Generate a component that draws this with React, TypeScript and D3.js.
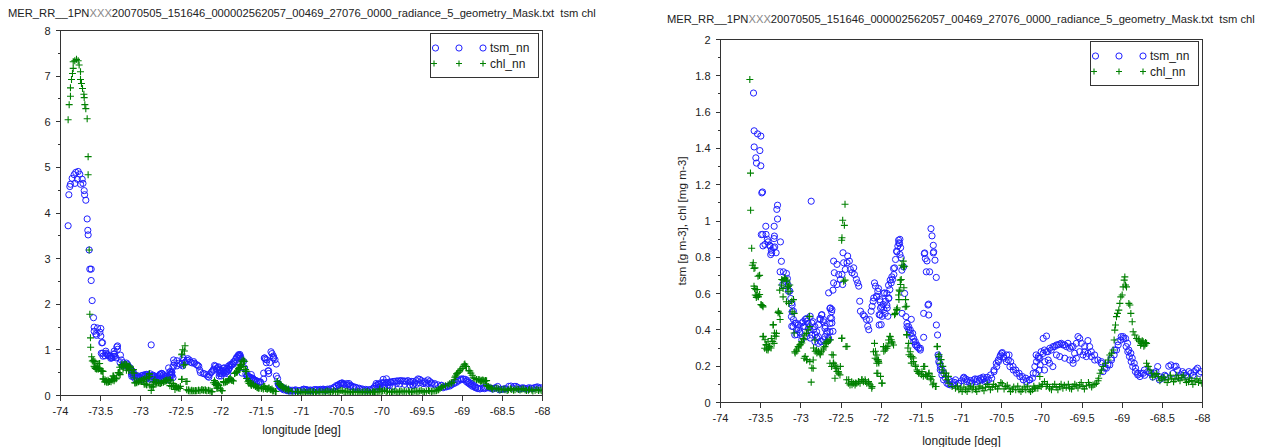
import React from "react";
import * as d3 from "d3";

const TITLE_A = "MER_RR__1PN";
const TITLE_B = "XXX";
const TITLE_C = "20070505_151646_000002562057_00469_27076_0000_radiance_5_geometry_Mask.txt  tsm chl";
const X_LABEL = "longitude [deg]";
const Y_LABEL = "tsm [g m-3], chl [mg m-3]";
const SERIES = ["tsm_nn", "chl_nn"];

const xTicks = [-74, -73.5, -73, -72.5, -72, -71.5, -71, -70.5, -70, -69.5, -69, -68.5, -68];
const leftYTicks = [0, 1, 2, 3, 4, 5, 6, 7, 8];
const leftYMinor = [0.5, 1.5, 2.5, 3.5, 4.5, 5.5, 6.5, 7.5];
const rightYTicks = [0, 0.2, 0.4, 0.6, 0.8, 1, 1.2, 1.4, 1.6, 1.8, 2];
const rightYMinor = [0.1, 0.3, 0.5, 0.7, 0.9, 1.1, 1.3, 1.5, 1.7, 1.9];

const tsm: [number, number][] = [
  [-73.905, 3.72], [-73.896, 4.4], [-73.884, 4.58], [-73.876, 4.63], [-73.855, 4.76], [-73.83, 4.84],
  [-73.82, 4.65], [-73.81, 4.89], [-73.79, 4.74], [-73.78, 4.91], [-73.76, 4.85], [-73.75, 4.63],
  [-73.73, 4.74], [-73.72, 4.65], [-73.705, 4.49], [-73.7, 4.4], [-73.685, 4.28], [-73.668, 3.87],
  [-73.66, 3.62], [-73.656, 3.52], [-73.643, 3.19], [-73.635, 2.77], [-73.618, 2.77], [-73.618, 2.52],
  [-73.606, 2.08], [-73.589, 1.705], [-73.581, 1.497], [-73.581, 1.408], [-73.56, 1.348], [-73.552, 1.319],
  [-73.539, 1.48], [-73.51, 1.388], [-73.498, 1.468], [-73.498, 1.304], [-73.486, 1.155], [-73.477, 1.16],
  [-73.492, 0.925], [-73.475, 0.926], [-73.471, 0.863], [-73.446, 0.871], [-73.436, 0.971], [-73.433, 0.926],
  [-73.417, 0.899], [-73.408, 0.885], [-73.388, 0.866], [-73.383, 0.862], [-73.375, 0.815], [-73.367, 0.839],
  [-73.363, 0.825], [-73.342, 0.853], [-73.333, 0.903], [-73.332, 0.971], [-73.329, 0.917], [-73.325, 0.857],
  [-73.308, 0.825], [-73.299, 1.064], [-73.29, 1.087], [-73.29, 1.011], [-73.254, 0.885], [-73.242, 0.778],
  [-73.258, 0.72], [-73.225, 0.65], [-73.217, 0.72], [-73.196, 0.668], [-73.179, 0.711], [-73.167, 0.683],
  [-73.158, 0.647], [-73.154, 0.613], [-73.138, 0.614], [-73.125, 0.573], [-73.113, 0.549], [-73.108, 0.537],
  [-73.092, 0.503], [-73.108, 0.5], [-73.117, 0.473], [-73.092, 0.457], [-73.113, 0.42], [-73.075, 0.436],
  [-73.058, 0.438], [-73.096, 0.418], [-73.054, 0.4], [-73.029, 0.401], [-73.075, 0.372], [-73.05, 0.374],
  [-73.033, 0.427], [-73.013, 0.39], [-73.008, 0.383], [-72.988, 0.438], [-72.988, 0.346], [-72.971, 0.445],
  [-72.967, 0.42], [-72.95, 0.418], [-72.946, 0.457], [-72.929, 0.463], [-72.925, 0.448], [-72.925, 0.365],
  [-72.908, 0.436], [-72.904, 0.411], [-72.888, 0.4], [-72.883, 0.475], [-72.883, 0.355], [-72.871, 1.109],
  [-72.867, 0.372], [-72.863, 0.438], [-72.846, 0.445], [-72.842, 0.401], [-72.825, 0.418], [-72.825, 0.335],
  [-72.821, 0.374], [-72.804, 0.39], [-72.8, 0.355], [-72.783, 0.363], [-72.783, 0.326], [-72.779, 0.429],
  [-72.763, 0.463], [-72.758, 0.457], [-72.758, 0.337], [-72.742, 0.482], [-72.742, 0.335], [-72.738, 0.484],
  [-72.721, 0.445], [-72.717, 0.457], [-72.717, 0.346], [-72.7, 0.408], [-72.7, 0.363], [-72.696, 0.42],
  [-72.679, 0.381], [-72.675, 0.392], [-72.658, 0.344], [-72.654, 0.355], [-72.654, 0.604], [-72.638, 0.39],
  [-72.638, 0.436], [-72.638, 0.518], [-72.633, 0.466], [-72.633, 0.521], [-72.617, 0.5], [-72.617, 0.463],
  [-72.613, 0.512], [-72.613, 0.438], [-72.6, 0.392], [-72.6, 0.619], [-72.592, 0.659], [-72.583, 0.715],
  [-72.592, 0.779], [-72.55, 0.761], [-72.55, 0.65], [-72.529, 0.705], [-72.508, 0.678], [-72.488, 0.705],
  [-72.479, 0.65], [-72.475, 0.825], [-72.467, 0.77], [-72.446, 0.733], [-72.425, 0.77], [-72.417, 0.807],
  [-72.396, 0.779], [-72.383, 0.733], [-72.363, 0.715], [-72.342, 0.742], [-72.333, 0.705], [-72.308, 0.678],
  [-72.292, 0.659], [-72.279, 0.641], [-72.267, 0.558], [-72.258, 0.503], [-72.225, 0.484], [-72.208, 0.475],
  [-72.183, 0.457], [-72.167, 0.42], [-72.154, 0.401], [-72.146, 0.457], [-72.125, 0.503], [-72.113, 0.53],
  [-72.1, 0.558], [-72.092, 0.576], [-72.083, 0.659], [-72.071, 0.641], [-72.058, 0.586], [-72.054, 0.582],
  [-72.042, 0.613], [-72.033, 0.628], [-72.025, 0.484], [-72.025, 0.427], [-72.017, 0.567], [-72.013, 0.555],
  [-72.013, 0.482], [-72.008, 0.521], [-72.0, 0.429], [-71.992, 0.527], [-71.988, 0.475], [-71.975, 0.54],
  [-71.971, 0.601], [-71.967, 0.512], [-71.958, 0.604], [-71.95, 0.491], [-71.946, 0.558], [-71.929, 0.601],
  [-71.929, 0.537], [-71.925, 0.521], [-71.917, 0.475], [-71.908, 0.646], [-71.908, 0.573], [-71.904, 0.576],
  [-71.892, 0.622], [-71.888, 0.674], [-71.875, 0.659], [-71.867, 0.692], [-71.858, 0.678], [-71.846, 0.738],
  [-71.842, 0.705], [-71.833, 0.742], [-71.821, 0.788], [-71.808, 0.834], [-71.804, 0.83], [-71.792, 0.862],
  [-71.783, 0.894], [-71.779, 0.88], [-71.771, 0.875], [-71.767, 0.899], [-71.767, 0.816], [-71.758, 0.853],
  [-71.75, 0.797], [-71.742, 0.729], [-71.74, 0.491], [-71.721, 0.747], [-71.708, 0.601], [-71.692, 0.473],
  [-71.679, 0.436], [-71.678, 0.418], [-71.658, 0.418], [-71.657, 0.4], [-71.638, 0.4], [-71.636, 0.381],
  [-71.625, 0.458], [-71.616, 0.363], [-71.608, 0.381], [-71.596, 0.353], [-71.595, 0.335], [-71.575, 0.335],
  [-71.574, 0.317], [-71.554, 0.317], [-71.554, 0.308], [-71.533, 0.299], [-71.513, 0.289], [-71.512, 0.299],
  [-71.471, 0.359], [-71.471, 0.491], [-71.463, 0.82], [-71.458, 0.824], [-71.45, 0.793], [-71.438, 0.72],
  [-71.43, 0.78], [-71.417, 0.537], [-71.409, 0.542], [-71.408, 0.482], [-71.397, 0.72], [-71.38, 0.958],
  [-71.367, 0.918], [-71.351, 0.866], [-71.346, 0.83], [-71.351, 0.824], [-71.33, 0.784], [-71.314, 0.689],
  [-71.313, 0.427], [-71.298, 0.372], [-71.292, 0.262], [-71.285, 0.253], [-71.283, 0.225], [-71.273, 0.216],
  [-71.264, 0.18], [-71.263, 0.198], [-71.244, 0.152], [-71.242, 0.179], [-71.223, 0.125], [-71.221, 0.161],
  [-71.2, 0.134], [-71.182, 0.106], [-71.16, 0.1], [-71.158, 0.125], [-71.14, 0.097], [-71.117, 0.115],
  [-71.099, 0.097], [-71.08, 0.11], [-71.075, 0.125], [-71.037, 0.106], [-71.033, 0.106], [-71.0, 0.12],
  [-70.975, 0.134], [-70.971, 0.139], [-70.95, 0.13], [-70.934, 0.115], [-70.929, 0.125], [-70.9, 0.11],
  [-70.888, 0.121], [-70.872, 0.106], [-70.846, 0.125], [-70.83, 0.13], [-70.81, 0.115], [-70.804, 0.128],
  [-70.78, 0.12], [-70.763, 0.134], [-70.748, 0.125], [-70.73, 0.14], [-70.721, 0.13], [-70.707, 0.115],
  [-70.69, 0.12], [-70.679, 0.139], [-70.665, 0.125], [-70.638, 0.152], [-70.624, 0.134], [-70.596, 0.179],
  [-70.595, 0.17], [-70.567, 0.216], [-70.562, 0.198], [-70.542, 0.234], [-70.541, 0.225], [-70.521, 0.253],
  [-70.513, 0.262], [-70.5, 0.271], [-70.492, 0.275], [-70.479, 0.253], [-70.471, 0.244], [-70.442, 0.225],
  [-70.438, 0.262], [-70.417, 0.234], [-70.408, 0.262], [-70.397, 0.198], [-70.388, 0.225], [-70.358, 0.198],
  [-70.355, 0.179], [-70.325, 0.179], [-70.314, 0.161], [-70.283, 0.161], [-70.273, 0.143], [-70.242, 0.143],
  [-70.231, 0.125], [-70.2, 0.134], [-70.19, 0.115], [-70.158, 0.125], [-70.149, 0.125], [-70.117, 0.134],
  [-70.107, 0.161], [-70.087, 0.198], [-70.075, 0.161], [-70.071, 0.262], [-70.066, 0.225], [-70.045, 0.253],
  [-70.042, 0.244], [-70.033, 0.179], [-70.025, 0.244], [-70.021, 0.207], [-70.008, 0.28], [-69.983, 0.353],
  [-69.983, 0.271], [-69.967, 0.289], [-69.967, 0.179], [-69.963, 0.225], [-69.942, 0.366], [-69.942, 0.28],
  [-69.925, 0.28], [-69.921, 0.234], [-69.904, 0.216], [-69.9, 0.299], [-69.883, 0.289], [-69.863, 0.198],
  [-69.86, 0.308], [-69.842, 0.308], [-69.818, 0.317], [-69.818, 0.262], [-69.8, 0.317], [-69.777, 0.322],
  [-69.777, 0.253], [-69.758, 0.326], [-69.736, 0.317], [-69.717, 0.317], [-69.715, 0.244], [-69.694, 0.308],
  [-69.675, 0.326], [-69.653, 0.299], [-69.653, 0.234], [-69.633, 0.308], [-69.613, 0.234], [-69.611, 0.308],
  [-69.611, 0.216], [-69.592, 0.271], [-69.57, 0.326], [-69.57, 0.244], [-69.55, 0.363], [-69.529, 0.353],
  [-69.529, 0.28], [-69.508, 0.326], [-69.488, 0.262], [-69.467, 0.308], [-69.467, 0.28], [-69.446, 0.253],
  [-69.426, 0.341], [-69.425, 0.271], [-69.405, 0.308], [-69.384, 0.28], [-69.383, 0.253], [-69.343, 0.262],
  [-69.342, 0.234], [-69.302, 0.234], [-69.26, 0.216], [-69.258, 0.225], [-69.238, 0.17], [-69.219, 0.189],
  [-69.196, 0.189], [-69.178, 0.207], [-69.154, 0.207], [-69.136, 0.244], [-69.133, 0.234], [-69.1, 0.262],
  [-69.095, 0.289], [-69.071, 0.289], [-69.054, 0.335], [-69.05, 0.317], [-69.017, 0.344], [-69.012, 0.363],
  [-68.988, 0.363], [-68.983, 0.353], [-68.958, 0.353], [-68.95, 0.308], [-68.933, 0.326], [-68.93, 0.28],
  [-68.917, 0.289], [-68.909, 0.253], [-68.892, 0.271], [-68.888, 0.225], [-68.875, 0.244], [-68.868, 0.198],
  [-68.85, 0.216], [-68.835, 0.17], [-68.833, 0.189], [-68.808, 0.161], [-68.806, 0.152], [-68.779, 0.143],
  [-68.764, 0.161], [-68.738, 0.161], [-68.723, 0.179], [-68.72, 0.15], [-68.682, 0.17], [-68.66, 0.165],
  [-68.64, 0.161], [-68.62, 0.14], [-68.599, 0.161], [-68.58, 0.17], [-68.558, 0.198], [-68.537, 0.125],
  [-68.52, 0.14], [-68.496, 0.134], [-68.47, 0.15], [-68.455, 0.143], [-68.42, 0.2], [-68.393, 0.207],
  [-68.37, 0.16], [-68.351, 0.198], [-68.33, 0.2], [-68.31, 0.179], [-68.29, 0.14], [-68.269, 0.152],
  [-68.25, 0.17], [-68.227, 0.161], [-68.21, 0.15], [-68.186, 0.143], [-68.17, 0.17], [-68.145, 0.161],
  [-68.12, 0.15], [-68.103, 0.17], [-68.08, 0.18], [-68.062, 0.189], [-68.04, 0.16], [-68.021, 0.17],
];

const chl: [number, number][] = [
  [-73.905, 6.044], [-73.892, 6.375], [-73.876, 6.559], [-73.876, 6.743], [-73.863, 6.926], [-73.851, 7.059],
  [-73.842, 7.169], [-73.842, 7.316], [-73.822, 7.338], [-73.801, 7.368], [-73.78, 7.338], [-73.768, 7.243],
  [-73.751, 7.096], [-73.751, 6.926], [-73.739, 6.838], [-73.726, 6.728], [-73.709, 6.603], [-73.705, 6.529],
  [-73.697, 6.375], [-73.685, 6.287], [-73.668, 6.066], [-73.656, 5.235], [-73.656, 4.838], [-73.643, 3.19],
  [-73.635, 1.78], [-73.627, 1.264], [-73.625, 1.059], [-73.612, 0.85], [-73.604, 0.756], [-73.592, 0.77],
  [-73.583, 0.738], [-73.571, 0.742], [-73.583, 0.641], [-73.575, 0.628], [-73.558, 0.622], [-73.567, 0.592],
  [-73.55, 0.589], [-73.554, 0.579], [-73.533, 0.696], [-73.517, 0.7], [-73.513, 0.701], [-73.542, 0.623],
  [-73.533, 0.586], [-73.513, 0.595], [-73.529, 0.582], [-73.496, 0.54], [-73.492, 0.537], [-73.475, 0.534],
  [-73.471, 0.527], [-73.471, 0.363], [-73.467, 0.365], [-73.45, 0.299], [-73.446, 0.346], [-73.433, 0.319],
  [-73.429, 0.317], [-73.425, 0.291], [-73.408, 0.335], [-73.408, 0.289], [-73.404, 0.3], [-73.392, 0.309],
  [-73.388, 0.308], [-73.371, 0.3], [-73.367, 0.353], [-73.35, 0.337], [-73.346, 0.427], [-73.342, 0.429],
  [-73.333, 0.326], [-73.329, 0.383], [-73.325, 0.366], [-73.308, 0.365], [-73.304, 0.381], [-73.283, 0.495],
  [-73.279, 0.503], [-73.263, 0.491], [-73.263, 0.619], [-73.258, 0.457], [-73.242, 0.647], [-73.238, 0.678],
  [-73.221, 0.674], [-73.221, 0.628], [-73.221, 0.582], [-73.2, 0.683], [-73.196, 0.687], [-73.179, 0.674],
  [-73.179, 0.555], [-73.175, 0.668], [-73.167, 0.637], [-73.158, 0.61], [-73.154, 0.641], [-73.15, 0.546],
  [-73.138, 0.647], [-73.133, 0.613], [-73.113, 0.558], [-73.108, 0.5], [-73.092, 0.567], [-73.083, 0.491],
  [-73.083, 0.383], [-73.075, 0.28], [-73.071, 0.273], [-73.054, 0.289], [-73.05, 0.282], [-73.033, 0.308],
  [-73.029, 0.3], [-73.013, 0.317], [-73.008, 0.319], [-72.992, 0.335], [-72.988, 0.328], [-72.971, 0.353],
  [-72.967, 0.346], [-72.958, 0.244], [-72.95, 0.372], [-72.946, 0.254], [-72.929, 0.381], [-72.929, 0.234],
  [-72.925, 0.236], [-72.908, 0.4], [-72.896, 0.473], [-72.892, 0.475], [-72.888, 0.418], [-72.888, 0.225],
  [-72.871, 0.112], [-72.863, 0.19], [-72.846, 0.234], [-72.846, 0.189], [-72.842, 0.3], [-72.825, 0.344],
  [-72.821, 0.282], [-72.804, 0.289], [-72.8, 0.273], [-72.783, 0.28], [-72.779, 0.282], [-72.763, 0.271],
  [-72.758, 0.263], [-72.742, 0.28], [-72.721, 0.289], [-72.717, 0.3], [-72.7, 0.308], [-72.696, 0.328],
  [-72.679, 0.326], [-72.675, 0.337], [-72.658, 0.335], [-72.638, 0.344], [-72.638, 0.216], [-72.633, 0.346],
  [-72.617, 0.198], [-72.613, 0.263], [-72.596, 0.262], [-72.596, 0.216], [-72.592, 0.217], [-72.575, 0.207],
  [-72.575, 0.134], [-72.571, 0.19], [-72.554, 0.189], [-72.55, 0.171], [-72.533, 0.17], [-72.529, 0.162],
  [-72.513, 0.152], [-72.508, 0.199], [-72.492, 0.353], [-72.492, 0.894], [-72.488, 0.355], [-72.488, 0.908],
  [-72.479, 1.004], [-72.458, 0.976], [-72.45, 1.092], [-72.467, 0.668], [-72.45, 0.674], [-72.438, 0.308],
  [-72.425, 0.309], [-72.429, 0.125], [-72.408, 0.106], [-72.404, 0.125], [-72.388, 0.097], [-72.367, 0.115],
  [-72.363, 0.098], [-72.346, 0.106], [-72.325, 0.097], [-72.321, 0.107], [-72.304, 0.106], [-72.283, 0.115],
  [-72.279, 0.116], [-72.263, 0.106], [-72.242, 0.125], [-72.238, 0.125], [-72.221, 0.115], [-72.2, 0.125],
  [-72.196, 0.116], [-72.179, 0.106], [-72.158, 0.115], [-72.154, 0.107], [-72.138, 0.097], [-72.117, 0.079],
  [-72.113, 0.088], [-72.096, 0.28], [-72.083, 0.326], [-72.075, 0.244], [-72.071, 0.282], [-72.054, 0.216],
  [-72.054, 0.262], [-72.054, 0.161], [-72.05, 0.236], [-72.042, 0.161], [-72.033, 0.234], [-72.033, 0.225],
  [-72.029, 0.217], [-72.008, 0.144], [-71.992, 0.106], [-71.988, 0.107], [-71.971, 0.308], [-71.967, 0.282],
  [-71.95, 0.289], [-71.946, 0.3], [-71.929, 0.299], [-71.925, 0.309], [-71.908, 0.344], [-71.904, 0.328],
  [-71.892, 0.365], [-71.888, 0.363], [-71.875, 0.346], [-71.867, 0.335], [-71.863, 0.328], [-71.846, 0.317],
  [-71.833, 0.484], [-71.825, 0.491], [-71.808, 0.512], [-71.804, 0.509], [-71.8, 0.521], [-71.783, 0.592],
  [-71.779, 0.567], [-71.775, 0.619], [-71.767, 0.613], [-71.763, 0.674], [-71.758, 0.65], [-71.75, 0.678],
  [-71.742, 0.756], [-71.725, 0.779], [-71.721, 0.747], [-71.717, 0.632], [-71.708, 0.751], [-71.7, 0.527],
  [-71.696, 0.567], [-71.683, 0.53], [-71.683, 0.374], [-71.679, 0.372], [-71.667, 0.3], [-71.658, 0.326],
  [-71.654, 0.263], [-71.638, 0.28], [-71.633, 0.254], [-71.625, 0.217], [-71.617, 0.253], [-71.6, 0.245],
  [-71.596, 0.225], [-71.575, 0.207], [-71.571, 0.199], [-71.554, 0.179], [-71.55, 0.171], [-71.533, 0.161],
  [-71.529, 0.162], [-71.5, 0.153], [-71.492, 0.17], [-71.475, 0.144], [-71.471, 0.198], [-71.458, 0.199],
  [-71.45, 0.152], [-71.442, 0.153], [-71.429, 0.143], [-71.425, 0.144], [-71.408, 0.158], [-71.404, 0.162],
  [-71.388, 0.134], [-71.379, 0.125], [-71.367, 0.143], [-71.358, 0.098], [-71.346, 0.106], [-71.325, 0.088],
  [-71.317, 0.088], [-71.304, 0.308], [-71.3, 0.309], [-71.283, 0.253], [-71.279, 0.263], [-71.263, 0.216],
  [-71.254, 0.236], [-71.242, 0.179], [-71.233, 0.199], [-71.221, 0.161], [-71.2, 0.143], [-71.192, 0.162],
  [-71.179, 0.125], [-71.163, 0.144], [-71.158, 0.106], [-71.117, 0.088], [-71.075, 0.079], [-71.05, 0.09],
  [-71.033, 0.07], [-71.01, 0.08], [-70.992, 0.06], [-70.97, 0.085], [-70.95, 0.07], [-70.93, 0.06],
  [-70.908, 0.079], [-70.89, 0.09], [-70.867, 0.07], [-70.85, 0.085], [-70.825, 0.073], [-70.81, 0.06],
  [-70.783, 0.079], [-70.77, 0.09], [-70.742, 0.079], [-70.72, 0.065], [-70.7, 0.084], [-70.68, 0.1],
  [-70.658, 0.088], [-70.64, 0.07], [-70.617, 0.084], [-70.6, 0.1], [-70.575, 0.088], [-70.55, 0.075],
  [-70.533, 0.092], [-70.51, 0.11], [-70.492, 0.103], [-70.47, 0.075], [-70.45, 0.088], [-70.43, 0.095],
  [-70.408, 0.079], [-70.39, 0.06], [-70.367, 0.073], [-70.35, 0.085], [-70.325, 0.07], [-70.3, 0.09],
  [-70.283, 0.07], [-70.26, 0.06], [-70.242, 0.073], [-70.22, 0.085], [-70.2, 0.07], [-70.18, 0.09],
  [-70.158, 0.07], [-70.14, 0.06], [-70.117, 0.07], [-70.1, 0.09], [-70.092, 0.079], [-70.075, 0.079],
  [-70.05, 0.079], [-70.033, 0.092], [-70.025, 0.143], [-70.008, 0.088], [-69.99, 0.1], [-69.967, 0.115],
  [-69.946, 0.088], [-69.93, 0.1], [-69.904, 0.079], [-69.88, 0.07], [-69.863, 0.088], [-69.84, 0.1],
  [-69.821, 0.084], [-69.8, 0.07], [-69.779, 0.088], [-69.76, 0.1], [-69.738, 0.079], [-69.72, 0.095],
  [-69.696, 0.084], [-69.67, 0.1], [-69.654, 0.079], [-69.63, 0.075], [-69.613, 0.088], [-69.59, 0.1],
  [-69.571, 0.092], [-69.55, 0.08], [-69.529, 0.097], [-69.51, 0.11], [-69.488, 0.088], [-69.47, 0.075],
  [-69.446, 0.092], [-69.42, 0.11], [-69.404, 0.097], [-69.38, 0.085], [-69.363, 0.097], [-69.34, 0.1],
  [-69.321, 0.106], [-69.3, 0.12], [-69.292, 0.134], [-69.275, 0.161], [-69.258, 0.179], [-69.238, 0.198],
  [-69.208, 0.216], [-69.175, 0.234], [-69.154, 0.262], [-69.133, 0.271], [-69.113, 0.289], [-69.1, 0.344],
  [-69.092, 0.399], [-69.083, 0.427], [-69.071, 0.473], [-69.058, 0.491], [-69.042, 0.509], [-69.029, 0.546],
  [-69.017, 0.582], [-69.0, 0.592], [-68.988, 0.637], [-68.975, 0.674], [-68.967, 0.692], [-68.958, 0.647],
  [-68.946, 0.637], [-68.917, 0.546], [-68.904, 0.537], [-68.892, 0.491], [-68.875, 0.445], [-68.863, 0.39],
  [-68.842, 0.372], [-68.821, 0.353], [-68.8, 0.344], [-68.79, 0.35], [-68.779, 0.335], [-68.77, 0.315],
  [-68.758, 0.326], [-68.75, 0.34], [-68.738, 0.335], [-68.73, 0.31], [-68.717, 0.317], [-68.71, 0.33],
  [-68.696, 0.326], [-68.696, 0.216], [-68.68, 0.2], [-68.675, 0.198], [-68.654, 0.179], [-68.633, 0.161],
  [-68.62, 0.14], [-68.592, 0.152], [-68.57, 0.16], [-68.55, 0.143], [-68.53, 0.12], [-68.508, 0.134],
  [-68.48, 0.14], [-68.467, 0.125], [-68.44, 0.11], [-68.425, 0.125], [-68.4, 0.15], [-68.383, 0.134],
  [-68.36, 0.115], [-68.342, 0.128], [-68.32, 0.15], [-68.3, 0.134], [-68.28, 0.12], [-68.258, 0.139],
  [-68.24, 0.15], [-68.217, 0.125], [-68.2, 0.11], [-68.175, 0.115], [-68.16, 0.135], [-68.133, 0.121],
  [-68.12, 0.1], [-68.092, 0.114], [-68.07, 0.13], [-68.05, 0.11], [-68.03, 0.12], [-68.008, 0.106],
];

const FONT = "'Liberation Sans', Arial, Helvetica, sans-serif";
const AXIS = "#333";
const TEXT = "#222";
const BLUE = "#2020ff";
const GREEN = "#008000";

type PanelProps = {
  id: string;
  x0: number; x1: number; yTop: number; yBot: number;
  yMax: number; yTicks: number[]; yMinor: number[];
  titleX: number; titleY: number;
  legendTop: number;
  showYLabel: boolean;
  xLabelY: number;
};

function Circle({ x, y }: { x: number; y: number }) {
  return <circle cx={x} cy={y} r={3.1} fill="none" stroke={BLUE} strokeWidth={1} />;
}
function Plus({ x, y, s = 3.5 }: { x: number; y: number; s?: number }) {
  return (
    <path d={`M${x - s},${y}H${x + s}M${x},${y - s}V${y + s}`} stroke={GREEN} strokeWidth={1.1} fill="none" />
  );
}

function Panel(p: PanelProps) {
  const xs = d3.scaleLinear().domain([-74, -68]).range([p.x0, p.x1]);
  const ys = d3.scaleLinear().domain([0, p.yMax]).range([p.yBot, p.yTop]);
  const fmt = (v: number) => String(+v.toFixed(2));
  const legW = 108;
  const legH = 44;
  const legX = p.x1 - 112.5;
  const legY = p.legendTop;
  return (
    <g fontFamily={FONT}>
      <text x={p.titleX} y={p.titleY} fontSize={11.2} fill={TEXT} style={{ whiteSpace: "pre" }}>
        {TITLE_A}
        <tspan fill="#888">{TITLE_B}</tspan>
        {TITLE_C}
      </text>
      <defs>
        <clipPath id={`clip-${p.id}`}>
          <rect x={p.x0} y={p.yTop} width={p.x1 - p.x0} height={p.yBot - p.yTop} />
        </clipPath>
      </defs>
      <g clipPath={`url(#clip-${p.id})`}>
        {tsm.map((d, i) => (
          <Circle key={`t${i}`} x={xs(d[0])} y={ys(d[1])} />
        ))}
        {chl.map((d, i) => (
          <Plus key={`c${i}`} x={xs(d[0])} y={ys(d[1])} />
        ))}
      </g>
      <rect x={p.x0} y={p.yTop} width={p.x1 - p.x0} height={p.yBot - p.yTop} fill="none" stroke={AXIS} strokeWidth={1} shapeRendering="crispEdges" />
      {xTicks.map((t) => (
        <g key={`x${t}`}>
          <line x1={xs(t)} x2={xs(t)} y1={p.yBot} y2={p.yBot + 5} stroke={AXIS} shapeRendering="crispEdges" />
          <text x={xs(t)} y={p.yBot + 19.5} fontSize={11} textAnchor="middle" fill={TEXT}>{fmt(t)}</text>
        </g>
      ))}
      {p.yTicks.map((t) => (
        <g key={`y${t}`}>
          <line x1={p.x0 - 5} x2={p.x0} y1={ys(t)} y2={ys(t)} stroke={AXIS} shapeRendering="crispEdges" />
          <text x={p.x0 - 10} y={ys(t) + 4} fontSize={11} textAnchor="end" fill={TEXT}>{fmt(t)}</text>
        </g>
      ))}
      {p.yMinor.map((t) => (
        <line key={`m${t}`} x1={p.x0 - 2.5} x2={p.x0} y1={ys(t)} y2={ys(t)} stroke={AXIS} shapeRendering="crispEdges" />
      ))}
      <text x={(p.x0 + p.x1) / 2} y={p.xLabelY} fontSize={12} textAnchor="middle" fill={TEXT}>{X_LABEL}</text>
      {p.showYLabel && (
        <text transform={`translate(${p.x0 - 35},${(p.yTop + p.yBot) / 2}) rotate(-90)`} fontSize={11.7} textAnchor="middle" fill={TEXT}>
          {Y_LABEL}
        </text>
      )}
      <g>
        <rect x={legX} y={legY} width={legW} height={legH} fill="#fff" stroke={AXIS} strokeWidth={1} shapeRendering="crispEdges" />
        {[legX + 5.5, legX + 29, legX + 53].map((cx, i) => (
          <Circle key={`lc${i}`} x={cx} y={legY + 14.5} />
        ))}
        {[legX + 4, legX + 29, legX + 53].map((cx, i) => (
          <Plus key={`lp${i}`} x={cx} y={legY + 30} s={3} />
        ))}
        <text x={legX + 60} y={legY + 18.5} fontSize={12} fill={TEXT}>{SERIES[0]}</text>
        <text x={legX + 60} y={legY + 34} fontSize={12} fill={TEXT}>{SERIES[1]}</text>
      </g>
    </g>
  );
}

export default function App() {
  return (
    <div style={{ position: "absolute", left: 0, top: 0 }}>
      <svg width={1266} height={447} viewBox="0 0 1266 447" style={{ display: "block", background: "#fff" }}>
        <rect width={1266} height={447} fill="#fff" />
        <Panel id="left" x0={60.5} x1={542.5} yTop={30.5} yBot={395.5} yMax={8} yTicks={leftYTicks} yMinor={leftYMinor}
          titleX={8} titleY={16.5} legendTop={33.5} showYLabel={false} xLabelY={434} />
        <Panel id="right" x0={720.5} x1={1202.5} yTop={39.5} yBot={402.5} yMax={2} yTicks={rightYTicks} yMinor={rightYMinor}
          titleX={667} titleY={23} legendTop={41.5} showYLabel={true} xLabelY={445} />
      </svg>
    </div>
  );
}
